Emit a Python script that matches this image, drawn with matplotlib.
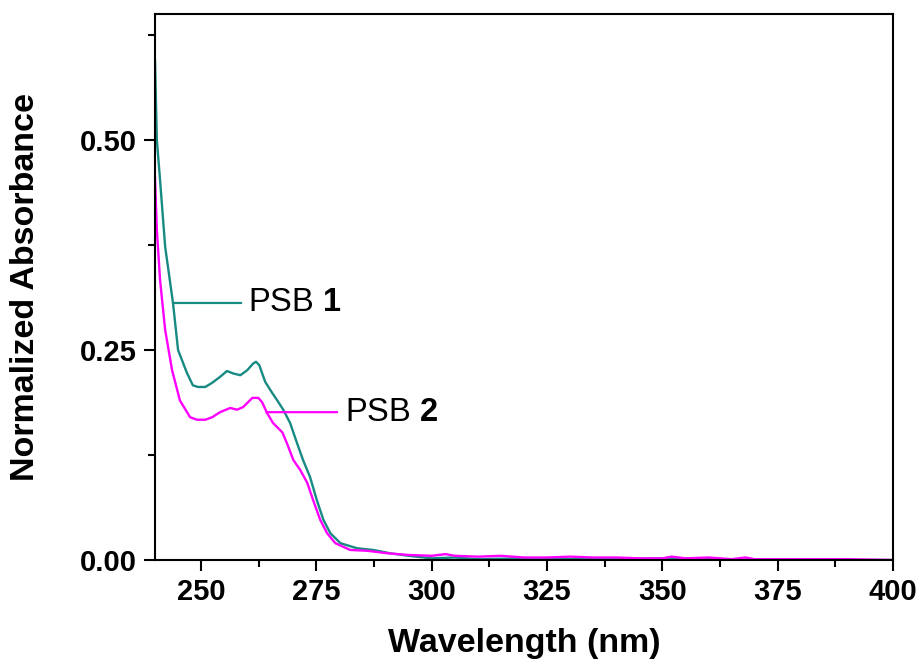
import matplotlib.pyplot as plt

plt.rcParams['font.family'] = ['Liberation Sans', 'DejaVu Sans']
plt.rcParams['mathtext.fontset'] = 'custom'
plt.rcParams['mathtext.rm'] = 'Liberation Sans'
plt.rcParams['mathtext.bf'] = 'Liberation Sans:bold'

# PSB 1 (teal)
wl_1 = [240, 240.4, 241.1, 242.2, 243.9, 245, 246.9, 248.2, 249.3, 250.9, 252.4, 254.1,
        255.6, 257, 258.5, 260, 261.3, 261.9, 262.6, 263.9, 265.4, 266.5, 267.8, 269.3,
        270.8, 272.1, 273.6, 275.1, 276.5, 278, 280.2, 283.8, 287.3, 291, 295, 300, 305,
        310, 320, 330, 340, 350, 360, 370, 380, 390, 400]
abs_1 = [0.595, 0.5, 0.452, 0.373, 0.306, 0.25, 0.223, 0.208, 0.206, 0.206, 0.211, 0.218,
         0.225, 0.222, 0.22, 0.226, 0.234, 0.236, 0.232, 0.212, 0.199, 0.19, 0.179, 0.163,
         0.139, 0.119, 0.099, 0.071, 0.048, 0.032, 0.020, 0.014, 0.012, 0.008, 0.005, 0.002,
         0.003, 0.001, 0.002, 0.001, 0.001, 0.002, 0.001, 0.0, 0.0, 0.0, 0.0]

# PSB 2 (magenta)
wl_2 = [240, 240.4, 241.1, 242.2, 243.7, 245.4, 247.6, 249.1, 250.9, 252.4, 254.1, 256.3,
        257.8, 259.1, 261.1, 262.4, 263.2, 264.3, 265.6, 267.6, 268.6, 270, 271.5, 273,
        274.3, 275.8, 277.3, 279.1, 282.3, 286, 290.4, 295, 300, 303, 305, 310, 315, 320,
        325, 330, 335, 340, 345, 350, 352, 355, 360, 365, 368, 370, 380, 390, 400]
abs_2 = [0.455, 0.393, 0.333, 0.274, 0.226, 0.19, 0.17, 0.167, 0.167, 0.17, 0.176, 0.181,
         0.179, 0.182, 0.193, 0.193, 0.188, 0.175, 0.163, 0.152, 0.139, 0.119, 0.107, 0.092,
         0.071, 0.048, 0.032, 0.020, 0.012, 0.011, 0.008, 0.006, 0.005, 0.007, 0.005, 0.004,
         0.005, 0.003, 0.003, 0.004, 0.003, 0.003, 0.002, 0.002, 0.004, 0.002, 0.003, 0.001,
         0.003, 0.001, 0.001, 0.001, 0.0]

teal = '#178a82'
magenta = '#ff00ff'

fig = plt.figure(figsize=(9.21, 6.67), dpi=100)
ax = fig.add_axes([0.1683, 0.1604, 0.8013, 0.8186])

ax.plot(wl_1, abs_1, color=teal, lw=1.7)
ax.plot(wl_2, abs_2, color=magenta, lw=1.7)

ax.annotate(r'PSB $\mathbf{1}$', xy=(243.9, 0.306), xytext=(260.2, 0.306),
            fontsize=23.5, va='center', ha='left',
            arrowprops=dict(arrowstyle='-', color=teal, lw=1.6, shrinkA=3, shrinkB=0))
ax.annotate(r'PSB $\mathbf{2}$', xy=(264.1, 0.176), xytext=(281.3, 0.176),
            fontsize=23.5, va='center', ha='left',
            arrowprops=dict(arrowstyle='-', color=magenta, lw=1.6, shrinkA=4, shrinkB=0))

ax.set_xlim(240, 400)
ax.set_ylim(0, 0.65)
ax.set_xticks([250, 275, 300, 325, 350, 375, 400])
ax.set_xticks([262.5, 287.5, 312.5, 337.5, 362.5, 387.5], minor=True)
ax.set_yticks([0.0, 0.25, 0.5])
ax.set_yticks([0.125, 0.375, 0.625], minor=True)
ax.set_yticklabels(['0.00', '0.25', '0.50'])

ax.tick_params(which='both', direction='out', width=1.5, top=False, right=False)
ax.tick_params(which='major', length=8, labelsize=21, pad=5)
ax.tick_params(which='minor', length=5)
for lab in ax.get_xticklabels() + ax.get_yticklabels():
    lab.set_fontweight('bold')
for s in ax.spines.values():
    s.set_linewidth(1.5)

ax.set_xlabel('Wavelength (nm)', fontsize=24.5, fontweight='bold', labelpad=16)
ax.set_ylabel('Normalized Absorbance', fontsize=24.5, fontweight='bold', labelpad=28)

fig.savefig('out.png', dpi=100)
